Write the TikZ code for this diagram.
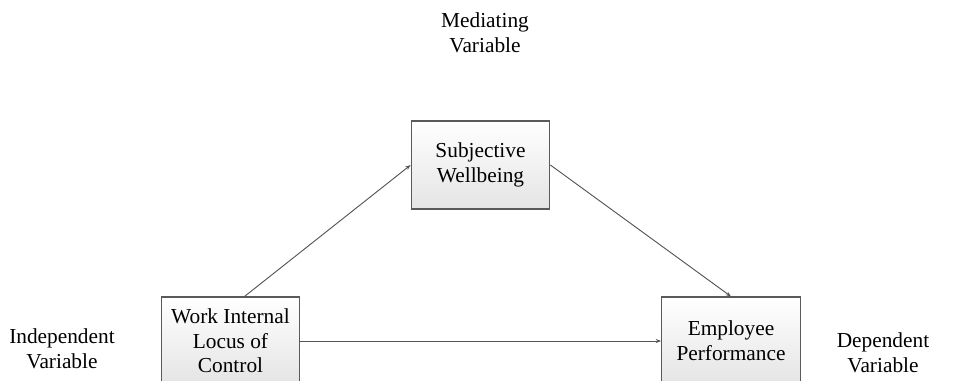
\documentclass[tikz,border=0pt]{standalone}
\usepackage{fontspec}
\setmainfont{Liberation Serif}
\usetikzlibrary{arrows.meta}

\tikzset{
  varbox/.style={draw={rgb,255:red,90;green,90;blue,90}, line width=0.8pt, top color=white, bottom color={rgb,255:red,228;green,228;blue,228}, minimum width=104pt, minimum height=66pt, align=center, inner sep=0pt, font=\fontsize{16}{18.5}\selectfont},
  varlabel/.style={align=center, font=\fontsize{16}{18.5}\selectfont},
  link/.style={draw={rgb,255:red,85;green,85;blue,85}, line width=0.7pt, -{Stealth[length=4pt,width=3pt]}}
}

\begin{document}
\begin{tikzpicture}[x=0.75pt,y=0.75pt,yscale=-1,xscale=1]
    %set diagram to the reference frame
    \useasboundingbox (0,0) rectangle (965,381);
    \clip (0,0) rectangle (965,381);
    
    %Shape: Rectangle [id:swb]
    \node [varbox] (swb) at (480.5,165) {Subjective\\Wellbeing};
    %Shape: Rectangle [id:wilc]
    \node [varbox] (wilc) at (230.5,341) {Work Internal\\Locus of\\Control};
    %Shape: Rectangle [id:emp]
    \node [varbox] (emp) at (731,341) {Employee\\Performance};
    
    %Straight Lines [id:a1]
    \draw [link] ([xshift=10.5pt]wilc.north) -- (swb.west);
    %Straight Lines [id:a2]
    \draw [link] (swb.east) -- (emp.north);
    %Straight Lines [id:a3]
    \draw [link] (wilc.east) -- (emp.west);
    
    % Text Node
    \node [varlabel] (med) at (485,33) {Mediating\\Variable};
    % Text Node
    \node [varlabel] (ind) at (62,349) {Independent\\Variable};
    % Text Node
    \node [varlabel] (dep) at (883,353) {Dependent\\Variable};
\end{tikzpicture}
\end{document}
